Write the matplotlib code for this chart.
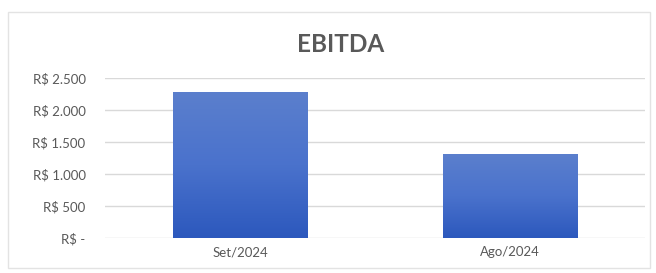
import numpy as np
import matplotlib.pyplot as plt
from matplotlib.patches import Rectangle
from matplotlib.colors import LinearSegmentedColormap

categorias = ['Set/2024', 'Ago/2024']
valores = [2280, 1310]
ticks_y = [0, 500, 1000, 1500, 2000, 2500]
rotulos_y = ['R$ -', 'R$ 500', 'R$ 1.000', 'R$ 1.500', 'R$ 2.000', 'R$ 2.500']

plt.rcParams['font.family'] = ['Lato', 'DejaVu Sans']
cinza = '#595959'

fig = plt.figure(figsize=(6.56, 2.73), dpi=100)
fig.patches.append(Rectangle((8 / 656, 1 - 268 / 273), 642 / 656, 256 / 273,
                             transform=fig.transFigure, fill=False,
                             edgecolor='#e3e3e3', linewidth=1))
ax = fig.add_axes([105 / 656, 1 - 238 / 273, 540 / 656, 160 / 273])

x = np.arange(len(categorias))
largura = 0.5
barras = ax.bar(x, valores, width=largura, color='none', zorder=3)

# degrade vertical em cada barra
cmap = LinearSegmentedColormap.from_list('azul', ['#2c58bd', '#4a72cc', '#5b7fcd'])
grad = np.linspace(0, 1, 256).reshape(-1, 1)
for b in barras:
    x0 = b.get_x()
    ax.imshow(grad, cmap=cmap, origin='lower', aspect='auto',
              extent=(x0, x0 + b.get_width(), 0, b.get_height()), zorder=3)

ax.set_xlim(-0.5, len(categorias) - 0.5)
ax.set_ylim(0, 2500)
ax.set_yticks(ticks_y)
ax.set_yticklabels(rotulos_y)
ax.set_xticks(x)
ax.set_xticklabels(categorias)
ax.grid(axis='y', color='#d9d9d9', linewidth=1, zorder=0)
ax.tick_params(length=0, colors=cinza, labelsize=9.5)
ax.tick_params(axis='y', pad=14)
ax.tick_params(axis='x', pad=6)
for s in ax.spines.values():
    s.set_visible(False)

fig.text(341 / 656, 1 - 45 / 273, 'EBITDA', ha='center', va='center',
         fontsize=17.5, fontweight='bold', color=cinza)

fig.savefig('out.png', dpi=100)
